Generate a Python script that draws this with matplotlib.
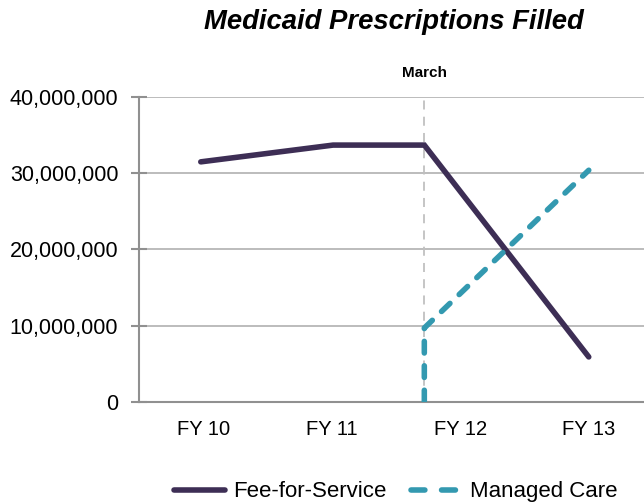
import matplotlib
matplotlib.use("Agg")
import matplotlib.pyplot as plt
from matplotlib.ticker import FuncFormatter

plt.rcParams['font.family'] = ['Liberation Sans', 'DejaVu Sans']

categories = ["FY 10", "FY 11", "FY 12", "FY 13"]
cat_pos = [0, 1, 2, 3]
march_x = 1.72

ffs_x = [-0.02, 1.01, march_x, 3.0]
ffs_y = [31_500_000, 33_700_000, 33_700_000, 5_900_000]

mc_x = [march_x, march_x, 3.0]
mc_y = [0, 9_700_000, 30_400_000]

yticks = [0, 10_000_000, 20_000_000, 30_000_000, 40_000_000]

fig = plt.figure(figsize=(6.44, 5.03), dpi=100)
ax = fig.add_axes([0.216, 0.201, 0.784, 0.606])

ffs_color = "#3d2e55"
mc_color = "#3399b0"

for y in yticks[1:]:
    ax.axhline(y, color="#b0b0b0", lw=1.2, zorder=1)
ax.axvline(march_x, color="#c0c0c0", lw=1.3, ls=(0, (5, 4)), zorder=1)

ax.plot(ffs_x, ffs_y, color=ffs_color, lw=4, solid_capstyle="round", solid_joinstyle="miter", label="Fee-for-Service", zorder=3)
ax.plot(mc_x, mc_y, color=mc_color, lw=4, ls=(0, (2.1, 2.3)), dash_capstyle="round", label="Managed Care", zorder=3)

ax.set_xlim(-0.5, 3.43)
ax.set_ylim(0, 40_000_000)
ax.set_yticks(yticks)
ax.yaxis.set_major_formatter(FuncFormatter(lambda v, p: f"{int(v):,}"))
ax.set_xticks(cat_pos)
ax.set_xticklabels(categories)
ax.tick_params(axis="x", length=0, labelsize=14.5, pad=13)
ax.tick_params(axis="y", length=12, direction="inout", color="#909090", width=1.5, labelsize=15.5, pad=9)

for s in ["top", "right"]:
    ax.spines[s].set_visible(False)
ax.spines["left"].set_color("#909090")
ax.spines["left"].set_linewidth(1.5)
ax.spines["bottom"].set_color("#909090")
ax.spines["bottom"].set_linewidth(1.5)

ax.text(march_x, 43_100_000, "March", ha="center", va="center", fontsize=11, fontweight="bold")

fig.text(0.611, 0.956, "Medicaid Prescriptions Filled", ha="center", va="center",
         fontsize=19.8, fontweight="bold", fontstyle="italic")

leg = fig.legend(loc="center", bbox_to_anchor=(0.615, 0.022), ncol=2, frameon=False,
                 fontsize=16, handlelength=2.3, columnspacing=1.1, handletextpad=0.36)
leg.get_lines()[1].set_linestyle((0, (2.5, 3.0)))
leg.get_lines()[1].set_dash_capstyle("round")

fig.savefig("out.png", dpi=100)
